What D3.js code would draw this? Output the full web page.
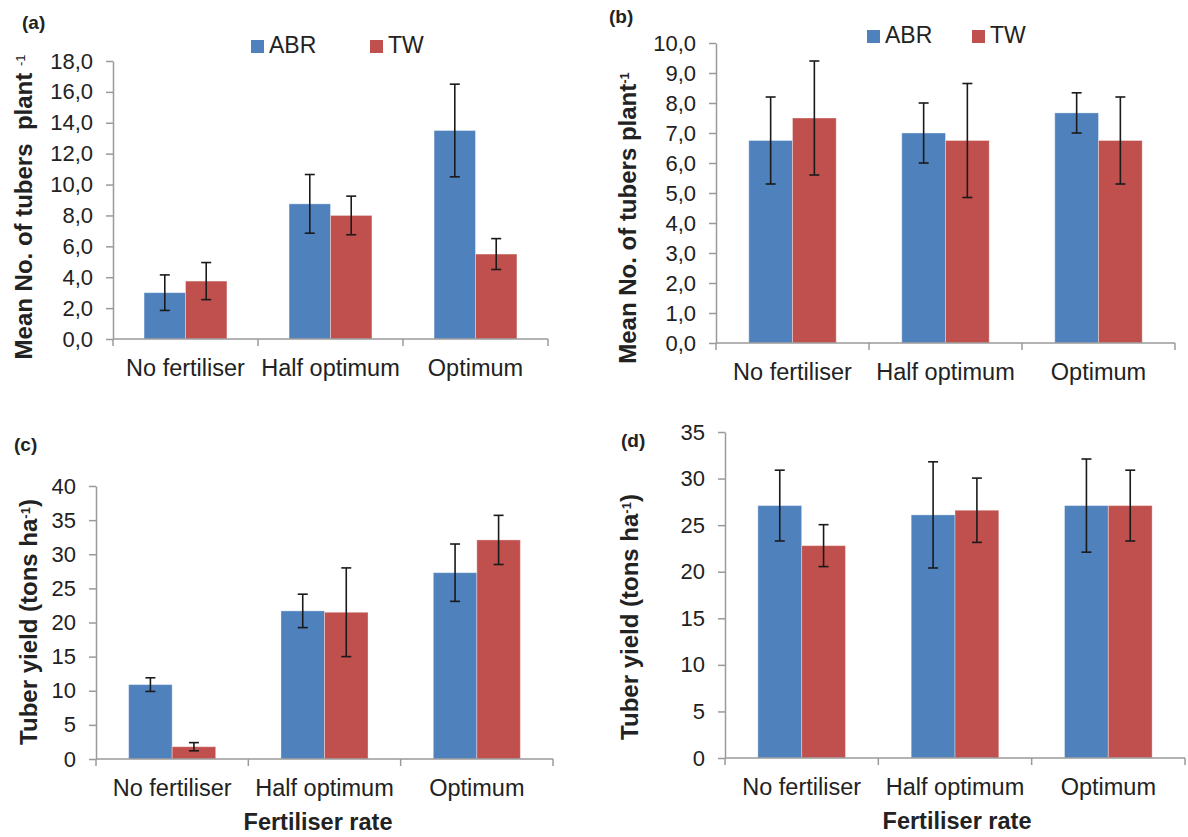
<!DOCTYPE html>
<html>
<head>
<meta charset="utf-8">
<script src="https://cdn.jsdelivr.net/npm/d3@7"></script>
<style>
  body { margin: 0; background: #fff; }
  svg { font-family: "Liberation Sans", Arial, sans-serif; }
  .ytitle { white-space: pre; }
</style>
</head>
<body>
<svg id="fig" width="1188" height="837"></svg>
<script>
// categories + series
var categories = ["No fertiliser", "Half optimum", "Optimum"];
var seriesNames = ["ABR", "TW"];
var seriesColors = { ABR: "#4F81BD", TW: "#C0504D" };

// (a) mean no. of tubers per plant
var tubersA_ABR = [3.0, 8.75, 13.5];
var tubersA_TW = [3.75, 8.0, 5.5];
var errA_ABR = [1.15, 1.9, 3.0];
var errA_TW = [1.2, 1.25, 1.0];
var ticksA = [0, 2, 4, 6, 8, 10, 12, 14, 16, 18];

// (b) mean no. of tubers per plant
var tubersB_ABR = [6.75, 7.0, 7.67];
var tubersB_TW = [7.5, 6.75, 6.75];
var errB_ABR = [1.45, 1.0, 0.67];
var errB_TW = [1.9, 1.9, 1.45];
var ticksB = [0, 1, 2, 3, 4, 5, 6, 7, 8, 9, 10];

// (c) tuber yield
var yieldC_ABR = [10.9, 21.7, 27.3];
var yieldC_TW = [1.8, 21.5, 32.1];
var errC_ABR = [1.0, 2.45, 4.2];
var errC_TW = [0.6, 6.5, 3.6];
var ticksC = [0, 5, 10, 15, 20, 25, 30, 35, 40];

// (d) tuber yield
var yieldD_ABR = [27.1, 26.1, 27.1];
var yieldD_TW = [22.8, 26.6, 27.1];
var errD_ABR = [3.8, 5.7, 5.0];
var errD_TW = [2.25, 3.45, 3.8];
var ticksD = [0, 5, 10, 15, 20, 25, 30, 35];

var commaFmt = function(d){ return d3.format(".1f")(d).replace(".", ","); };
var intFmt = d3.format("d");

var svg = d3.select("#fig");

function buildRows(abr, tw, eAbr, eTw){
    return categories.map(function(c, i){
        return { cat: c, vals: [
            { s: "ABR", v: abr[i], e: eAbr[i] },
            { s: "TW", v: tw[i], e: eTw[i] }
        ]};
    });
}

function drawPanel(p){
    var g = svg.append("g");
    var rows = buildRows(p.abr, p.tw, p.eAbr, p.eTw);

    var x0 = d3.scaleBand().domain(categories).range([p.left, p.right])
        .paddingInner(0.4286).paddingOuter(0.2143);
    var x1 = d3.scaleBand().domain(seriesNames).range([0, x0.bandwidth()]);
    var y = d3.scaleLinear().domain([0, p.max]).range([p.bottom, p.top]);

    // y axis
    var yAxis = d3.axisLeft(y).tickValues(p.ticks).tickFormat(p.fmt)
        .tickSize(7).tickSizeOuter(0).tickPadding(13);
    var ya = g.append("g").attr("transform", "translate(" + p.left + ",0)").call(yAxis);
    ya.selectAll("path, line").attr("stroke", "#9a9a9a").attr("stroke-width", 1.5);
    ya.selectAll("text").attr("font-size", 22).attr("fill", "#222");

    // bars
    var grp = g.selectAll(".grp").data(rows).enter().append("g")
        .attr("transform", function(d){ return "translate(" + x0(d.cat) + ",0)"; });
    grp.selectAll("rect").data(function(d){ return d.vals; }).enter().append("rect")
        .attr("x", function(d){ return x1(d.s); })
        .attr("y", function(d){ return y(d.v); })
        .attr("width", x1.bandwidth())
        .attr("height", function(d){ return y(0) - y(d.v); })
        .attr("fill", function(d){ return seriesColors[d.s]; })
        .attr("stroke", "rgba(255,255,255,0.35)")
        .attr("stroke-width", 1);

    // error bars
    var eb = grp.selectAll(".eb").data(function(d){ return d.vals; }).enter().append("g")
        .attr("stroke", "#1a1a1a").attr("stroke-width", 1.6);
    var cx = function(d){ return x1(d.s) + x1.bandwidth() / 2; };
    eb.append("line")
        .attr("x1", cx).attr("x2", cx)
        .attr("y1", function(d){ return y(d.v + d.e); })
        .attr("y2", function(d){ return y(d.v - d.e); });
    [1, -1].forEach(function(sign){
        eb.append("line")
            .attr("x1", function(d){ return cx(d) - 5; })
            .attr("x2", function(d){ return cx(d) + 5; })
            .attr("y1", function(d){ return y(d.v + sign * d.e); })
            .attr("y2", function(d){ return y(d.v + sign * d.e); });
    });

    // x axis: baseline, boundary ticks, labels
    g.append("line").attr("x1", p.left).attr("x2", p.right)
        .attr("y1", p.bottom).attr("y2", p.bottom)
        .attr("stroke", "#9a9a9a").attr("stroke-width", 1.5);
    var bounds = d3.range(categories.length + 1).map(function(i){ return p.left + i * x0.step(); });
    g.selectAll(".xt").data(bounds).enter().append("line")
        .attr("x1", function(d){ return d; }).attr("x2", function(d){ return d; })
        .attr("y1", p.bottom).attr("y2", p.bottom + 7)
        .attr("stroke", "#9a9a9a").attr("stroke-width", 1.5);
    g.selectAll(".xl").data(categories).enter().append("text")
        .attr("x", function(d){ return x0(d) + x0.bandwidth() / 2; })
        .attr("y", p.bottom + 37)
        .attr("text-anchor", "middle")
        .attr("font-size", 23.5).attr("fill", "#222")
        .text(function(d){ return d; });

    // y title
    var yt = g.append("text").attr("class", "ytitle")
        .attr("transform", "translate(" + p.ytX + "," + p.ytY + ") rotate(-90)")
        .attr("text-anchor", "middle").attr("dy", "0.35em")
        .attr("font-size", 24).attr("font-weight", "bold").attr("fill", "#222");
    p.yTitle.forEach(function(part){
        var t = yt.append("tspan").text(part.t);
        if(part.sup){
            t.attr("font-size", 13).attr("baseline-shift", "super")
             .attr("font-weight", part.light ? "normal" : "bold");
        }
    });

    // panel letter
    g.append("text").attr("x", p.lx).attr("y", p.ly)
        .attr("font-size", 19).attr("font-weight", "bold").attr("fill", "#222")
        .text(p.letter);

    // x title
    if(p.xTitle){
        g.append("text").attr("x", p.xtX).attr("y", p.bottom + 71)
            .attr("text-anchor", "middle")
            .attr("font-size", 23.5).attr("font-weight", "bold").attr("fill", "#222")
            .text(p.xTitle);
    }

    // legend
    if(p.legend){
        var lg = g.selectAll(".lg").data(seriesNames).enter().append("g")
            .attr("transform", function(d, i){ return "translate(" + p.legend.x[i] + "," + p.legend.y + ")"; });
        lg.append("rect").attr("x", 0).attr("y", -13).attr("width", 13).attr("height", 13)
            .attr("fill", function(d){ return seriesColors[d]; });
        lg.append("text").attr("x", 18).attr("y", 0)
            .attr("font-size", 23).attr("fill", "#222")
            .text(function(d){ return d; });
    }
}

drawPanel({
    left: 113, right: 548, top: 61, bottom: 339, max: 18,
    abr: tubersA_ABR, tw: tubersA_TW, eAbr: errA_ABR, eTw: errA_TW,
    ticks: ticksA, fmt: commaFmt,
    yTitle: [{t: "Mean No. of tubers  plant "}, {t: "-1", sup: true, light: true}],
    ytX: 24, ytY: 207, letter: "(a)", lx: 22, ly: 29,
    legend: { x: [251, 370], y: 53 }
});
drawPanel({
    left: 716, right: 1175, top: 43, bottom: 343, max: 10,
    abr: tubersB_ABR, tw: tubersB_TW, eAbr: errB_ABR, eTw: errB_TW,
    ticks: ticksB, fmt: commaFmt,
    yTitle: [{t: "Mean No. of tubers plant"}, {t: "-1", sup: true}],
    ytX: 628, ytY: 218, letter: "(b)", lx: 609, ly: 23,
    legend: { x: [867, 972], y: 43 }
});
drawPanel({
    left: 96, right: 553, top: 486, bottom: 759, max: 40,
    abr: yieldC_ABR, tw: yieldC_TW, eAbr: errC_ABR, eTw: errC_TW,
    ticks: ticksC, fmt: intFmt,
    yTitle: [{t: "Tuber yield (tons ha"}, {t: "-1", sup: true}, {t: ")"}],
    ytX: 29, ytY: 622, letter: "(c)", lx: 14, ly: 451,
    xTitle: "Fertiliser rate", xtX: 318
});
drawPanel({
    left: 725, right: 1185, top: 432, bottom: 758, max: 35,
    abr: yieldD_ABR, tw: yieldD_TW, eAbr: errD_ABR, eTw: errD_TW,
    ticks: ticksD, fmt: intFmt,
    yTitle: [{t: "Tuber yield (tons ha"}, {t: "-1", sup: true}, {t: ")"}],
    ytX: 630, ytY: 617, letter: "(d)", lx: 621, ly: 447,
    xTitle: "Fertiliser rate", xtX: 957
});
</script>
</body>
</html>
